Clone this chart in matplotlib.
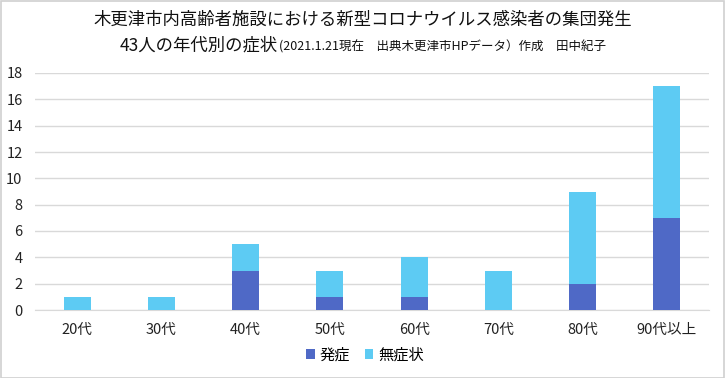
import matplotlib
matplotlib.use("Agg")
import matplotlib.pyplot as plt
from matplotlib.patches import Rectangle

plt.rcParams['font.family'] = ['Noto Sans CJK JP', 'DejaVu Sans']

categories = ['20代', '30代', '40代', '50代', '60代', '70代', '80代', '90代以上']
onset = [0, 0, 3, 1, 1, 0, 2, 7]
asymptomatic = [1, 1, 2, 2, 3, 3, 7, 10]
series_names = ['発症', '無症状']
yticks = [0, 2, 4, 6, 8, 10, 12, 14, 16, 18]

c_dark = '#4F69C6'
c_light = '#5DCBF3'

W, H = 725, 378
fig = plt.figure(figsize=(W / 100, H / 100), dpi=100)
fig.patches.append(Rectangle((0.5 / W, 0.5 / H), 1 - 1.5 / W, 1 - 1.5 / H,
                             transform=fig.transFigure, fill=False,
                             edgecolor='#D0D0D0', linewidth=1.2))

ax = fig.add_axes([35 / W, 1 - 310 / H, (709 - 35) / W, (310 - 73) / H])
x = list(range(len(categories)))
ax.bar(x, onset, width=0.32, color=c_dark, label=series_names[0], zorder=3)
ax.bar(x, asymptomatic, width=0.32, bottom=onset, color=c_light,
       label=series_names[1], zorder=3)

ax.set_xlim(-0.5, len(categories) - 0.5)
ax.set_ylim(0, 18)
ax.set_yticks(yticks)
ax.set_xticks(x)
ax.set_xticklabels(categories)
ax.yaxis.grid(True, color='#D9D9D9', linewidth=1, zorder=0)
for s in ['top', 'right', 'left']:
    ax.spines[s].set_visible(False)
ax.spines['bottom'].set_color('#D9D9D9')
ax.tick_params(axis='both', length=0, labelsize=10.5, colors='#222222')
ax.tick_params(axis='x', pad=9)
ax.tick_params(axis='y', pad=9)

fig.text(0.5, 1 - 20 / H, '木更津市内高齢者施設における新型コロナウイルス感染者の集団発生',
         ha='center', va='center', fontsize=12.5, color='#111111')
fig.text(278 / W, 1 - 46 / H, '43人の年代別の症状', ha='right', va='center',
         fontsize=12.5, color='#111111')
fig.text(279 / W, 1 - 47 / H, '(2021.1.21現在　出典木更津市HPデータ）作成　田中紀子',
         ha='left', va='center', fontsize=9, color='#111111')

ax.legend(loc='center', bbox_to_anchor=(365 / W, 1 - 355 / H),
          bbox_transform=fig.transFigure, ncol=2, frameon=False,
          fontsize=11, handlelength=0.55, handleheight=0.55,
          handletextpad=0.3, columnspacing=1.0)

fig.savefig('out.png', dpi=100)
